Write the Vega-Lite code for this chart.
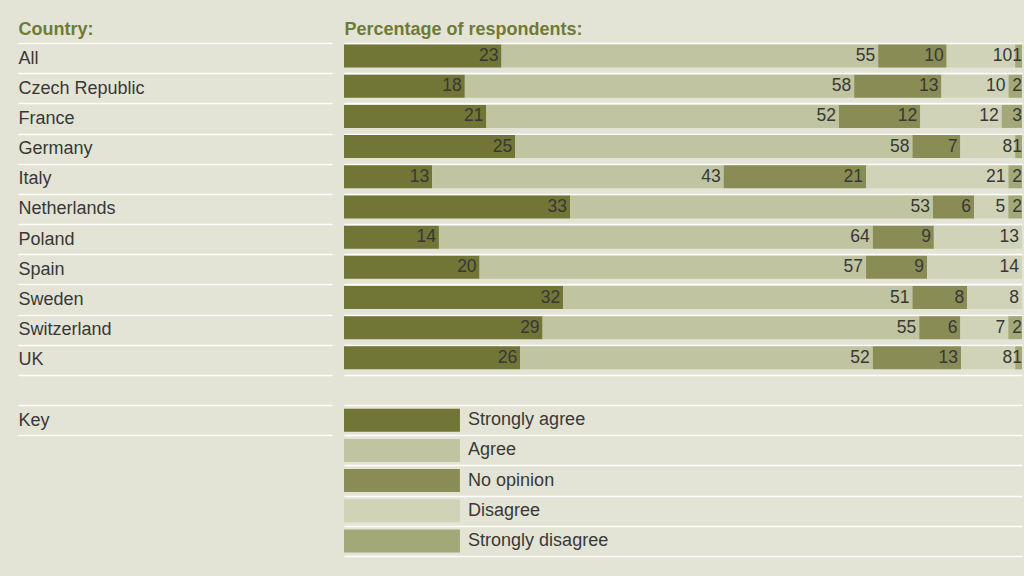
{
  "$schema": "https://vega.github.io/schema/vega-lite/v6.json",
  "width": 678,
  "height": 513,
  "autosize": {"type": "none"},
  "padding": {"left": 344, "top": 43, "right": 2, "bottom": 20},
  "background": "#e3e4d5",
  "config": {
    "view": {"stroke": null},
    "font": "Liberation Sans"
  },
  "resolve": {"axis": {"y": "independent"}},
  "datasets": {
    "survey": [
      {"country": "All", "answer": "Strongly agree", "value": 23},
      {"country": "All", "answer": "Agree", "value": 55},
      {"country": "All", "answer": "No opinion", "value": 10},
      {"country": "All", "answer": "Disagree", "value": 10},
      {"country": "All", "answer": "Strongly disagree", "value": 1},
      {"country": "Czech Republic", "answer": "Strongly agree", "value": 18},
      {"country": "Czech Republic", "answer": "Agree", "value": 58},
      {"country": "Czech Republic", "answer": "No opinion", "value": 13},
      {"country": "Czech Republic", "answer": "Disagree", "value": 10},
      {"country": "Czech Republic", "answer": "Strongly disagree", "value": 2},
      {"country": "France", "answer": "Strongly agree", "value": 21},
      {"country": "France", "answer": "Agree", "value": 52},
      {"country": "France", "answer": "No opinion", "value": 12},
      {"country": "France", "answer": "Disagree", "value": 12},
      {"country": "France", "answer": "Strongly disagree", "value": 3},
      {"country": "Germany", "answer": "Strongly agree", "value": 25},
      {"country": "Germany", "answer": "Agree", "value": 58},
      {"country": "Germany", "answer": "No opinion", "value": 7},
      {"country": "Germany", "answer": "Disagree", "value": 8},
      {"country": "Germany", "answer": "Strongly disagree", "value": 1},
      {"country": "Italy", "answer": "Strongly agree", "value": 13},
      {"country": "Italy", "answer": "Agree", "value": 43},
      {"country": "Italy", "answer": "No opinion", "value": 21},
      {"country": "Italy", "answer": "Disagree", "value": 21},
      {"country": "Italy", "answer": "Strongly disagree", "value": 2},
      {"country": "Netherlands", "answer": "Strongly agree", "value": 33},
      {"country": "Netherlands", "answer": "Agree", "value": 53},
      {"country": "Netherlands", "answer": "No opinion", "value": 6},
      {"country": "Netherlands", "answer": "Disagree", "value": 5},
      {"country": "Netherlands", "answer": "Strongly disagree", "value": 2},
      {"country": "Poland", "answer": "Strongly agree", "value": 14},
      {"country": "Poland", "answer": "Agree", "value": 64},
      {"country": "Poland", "answer": "No opinion", "value": 9},
      {"country": "Poland", "answer": "Disagree", "value": 13},
      {"country": "Spain", "answer": "Strongly agree", "value": 20},
      {"country": "Spain", "answer": "Agree", "value": 57},
      {"country": "Spain", "answer": "No opinion", "value": 9},
      {"country": "Spain", "answer": "Disagree", "value": 14},
      {"country": "Sweden", "answer": "Strongly agree", "value": 32},
      {"country": "Sweden", "answer": "Agree", "value": 51},
      {"country": "Sweden", "answer": "No opinion", "value": 8},
      {"country": "Sweden", "answer": "Disagree", "value": 8},
      {"country": "Switzerland", "answer": "Strongly agree", "value": 29},
      {"country": "Switzerland", "answer": "Agree", "value": 55},
      {"country": "Switzerland", "answer": "No opinion", "value": 6},
      {"country": "Switzerland", "answer": "Disagree", "value": 7},
      {"country": "Switzerland", "answer": "Strongly disagree", "value": 2},
      {"country": "UK", "answer": "Strongly agree", "value": 26},
      {"country": "UK", "answer": "Agree", "value": 52},
      {"country": "UK", "answer": "No opinion", "value": 13},
      {"country": "UK", "answer": "Disagree", "value": 8},
      {"country": "UK", "answer": "Strongly disagree", "value": 1}
    ],
    "key": [
      {"answer": "Strongly agree"},
      {"answer": "Agree"},
      {"answer": "No opinion"},
      {"answer": "Disagree"},
      {"answer": "Strongly disagree"}
    ]
  },
  "layer": [
    {
      "data": {"name": "survey"},
      "transform": [
        {"stack": "value", "groupby": ["country"], "as": ["v0", "v1"], "offset": "normalize"}
      ],
      "mark": {"type": "bar", "size": 23, "yOffset": -2},
      "encoding": {
        "y": {
          "field": "country",
          "type": "nominal",
          "scale": {
            "domain": ["All", "Czech Republic", "France", "Germany", "Italy", "Netherlands", "Poland", "Spain", "Sweden", "Switzerland", "UK", " ", "Strongly agree", "Agree", "No opinion", "Disagree", "Strongly disagree"],
            "paddingInner": 0,
            "paddingOuter": 0
          },
          "axis": {
            "orient": "left",
            "labels": false,
            "ticks": false,
            "domain": false,
            "grid": true,
            "tickBand": "extent",
            "gridColor": "#ffffff",
            "gridWidth": 1.5,
            "gridOpacity": 1,
            "title": "Percentage of respondents:",
            "titleAngle": 0,
            "titleAlign": "left",
            "titleAnchor": null,
            "titleX": 0,
            "titleY": -9,
            "titleBaseline": "alphabetic",
            "titleFontSize": 18,
            "titleFontWeight": "bold",
            "titleColor": "#6f7a35",
            "titleFont": "Liberation Sans"
          }
        },
        "x": {
          "field": "v0",
          "type": "quantitative",
          "scale": {"domain": [0, 1], "nice": false, "zero": false},
          "axis": null
        },
        "x2": {"field": "v1"},
        "color": {
          "field": "answer",
          "type": "nominal",
          "scale": {
            "domain": ["Strongly agree", "Agree", "No opinion", "Disagree", "Strongly disagree"],
            "range": ["#717535", "#c0c4a0", "#898c55", "#d1d3b9", "#a3a878"]
          },
          "legend": null
        }
      }
    },
    {
      "data": {"name": "survey"},
      "transform": [
        {"stack": "value", "groupby": ["country"], "as": ["v0", "v1"], "offset": "normalize"},
        {"filter": "datum.answer !== 'Strongly disagree'"}
      ],
      "mark": {"type": "text", "align": "right", "baseline": "middle", "dx": -3, "yOffset": -2, "fontSize": 17.5, "color": "#383838", "font": "Liberation Sans"},
      "encoding": {
        "y": {
          "field": "country",
          "type": "nominal",
          "axis": {
            "orient": "left",
            "title": "Country:",
            "domain": false,
            "grid": false,
            "ticks": true,
            "tickSize": 314,
            "tickColor": "#ffffff",
            "tickWidth": 1.5,
            "tickBand": "extent",
            "tickOpacity": {"condition": {"test": "datum.value === 'Agree' || datum.value === 'No opinion' || datum.value === 'Disagree' || datum.value === 'Strongly disagree'", "value": 0}, "value": 1},
            "offset": 12,
            "labelAlign": "left",
            "labelBaseline": "middle",
            "labelPadding": 0,
            "labelFontSize": 18,
            "labelColor": "#383838",
            "labelFont": "Liberation Sans",
            "labelBound": false,
            "labelOverlap": false,
            "labelExpr": "datum.value === 'Strongly agree' ? 'Key' : (indexof(['Agree','No opinion','Disagree','Strongly disagree',' '], datum.value) >= 0 ? '' : datum.label)",
            "titleAngle": 0,
            "titleAlign": "left",
            "titleAnchor": null,
            "titleX": -314,
            "titleY": -9,
            "titleBaseline": "alphabetic",
            "titleFontSize": 18,
            "titleFontWeight": "bold",
            "titleColor": "#6f7a35",
            "titleFont": "Liberation Sans"
          }
        },
        "x": {"field": "v1", "type": "quantitative", "axis": null},
        "text": {"field": "value", "type": "quantitative"}
      }
    },
    {
      "data": {"name": "survey"},
      "transform": [
        {"stack": "value", "groupby": ["country"], "as": ["v0", "v1"], "offset": "normalize"},
        {"filter": "datum.answer === 'Strongly disagree'"}
      ],
      "mark": {"type": "text", "align": "right", "baseline": "middle", "dx": 0, "yOffset": -2, "fontSize": 17.5, "color": "#383838", "font": "Liberation Sans"},
      "encoding": {
        "y": {"field": "country", "type": "nominal", "axis": null},
        "x": {"field": "v1", "type": "quantitative", "axis": null},
        "text": {"field": "value", "type": "quantitative"}
      }
    },
    {
      "data": {"name": "key"},
      "mark": {"type": "bar", "size": 23},
      "encoding": {
        "y": {"field": "answer", "type": "nominal", "axis": null},
        "x": {"datum": 0, "axis": null},
        "x2": {"datum": 0.171},
        "color": {"field": "answer", "type": "nominal"}
      }
    },
    {
      "data": {"name": "key"},
      "mark": {"type": "text", "align": "left", "baseline": "middle", "fontSize": 18, "color": "#383838", "font": "Liberation Sans"},
      "encoding": {
        "y": {"field": "answer", "type": "nominal", "axis": null},
        "x": {"datum": 0.183, "axis": null},
        "text": {"field": "answer"}
      }
    }
  ]
}
